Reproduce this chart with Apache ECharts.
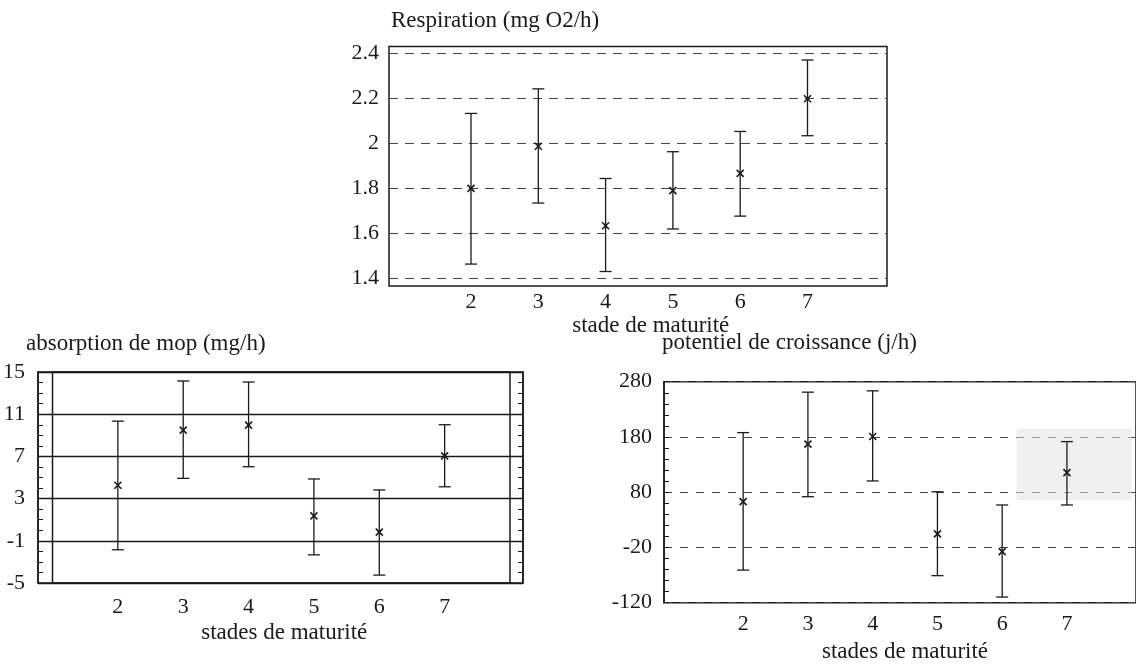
<!DOCTYPE html>
<html><head><meta charset="utf-8">
<script src="https://cdn.jsdelivr.net/npm/echarts@6/dist/echarts.min.js"></script>
<style>html,body{margin:0;padding:0;background:#fff;overflow:hidden}#c{width:1136px;height:664px}</style>
</head><body><div id="c"></div><script>
// ---- data ----
const stages = [2, 3, 4, 5, 6, 7];
const xTickLabels = ['2', '3', '4', '5', '6', '7'];

const respMean = [1.80, 1.987, 1.634, 1.79, 1.867, 2.198];
const respLow  = [1.464, 1.735, 1.431, 1.62, 1.677, 2.034];
const respHigh = [2.133, 2.242, 1.844, 1.963, 2.053, 2.37];

const mopMean = [4.26, 9.49, 9.96, 1.36, -0.18, 7.05];
const mopLow  = [-1.85, 4.92, 6.02, -2.33, -4.25, 4.12];
const mopHigh = [10.34, 14.15, 14.05, 4.86, 3.82, 10.0];

const potMean = [59.7, 165.3, 179.3, 0.5, -32.1, 113];
const potLow  = [-66, 68.8, 97.7, -76.2, -115.5, 53.6];
const potHigh = [186.5, 260.8, 263.2, 77.8, 53.6, 170];

const respAxis = {min: 1.4, max: 2.4, interval: 0.2};
const mopAxis = {min: -5, max: 15, interval: 4};
const potAxis = {min: -120, max: 280, interval: 100};
const stageAxis = {min: 1, max: 8, interval: 1};
const potShade = [[6.22, 62.6], [8.0, 193.8]];

const titles = ['Respiration (mg O2/h)', 'absorption de mop (mg/h)', 'potentiel de croissance (j/h)'];
const xNames = ['stade de maturité', 'stades de maturité', 'stades de maturité'];

// ---- styles ----
const FONT = "'Liberation Serif','DejaVu Serif',serif";
const INK = '#1a1a1a';
const lab = (size) => ({fontFamily: FONT, fontSize: size, color: INK});

function rows(mean, low, high) {
  return stages.map((s, i) => [s, mean[i], low[i], high[i]]);
}
function errRender(params, api) {
  const x = api.value(0);
  const c = api.coord([x, api.value(1)]);
  const lo = api.coord([x, api.value(2)]);
  const hi = api.coord([x, api.value(3)]);
  const cw = 6, m = 3.5;
  const st = {stroke: INK, lineWidth: 1.3, fill: null};
  const st2 = {stroke: INK, lineWidth: 1.6, fill: null};
  return {type: 'group', children: [
    {type: 'line', shape: {x1: hi[0], y1: hi[1], x2: lo[0], y2: lo[1]}, style: st},
    {type: 'line', shape: {x1: hi[0] - cw, y1: hi[1], x2: hi[0] + cw, y2: hi[1]}, style: st},
    {type: 'line', shape: {x1: lo[0] - cw, y1: lo[1], x2: lo[0] + cw, y2: lo[1]}, style: st},
    {type: 'line', shape: {x1: c[0] - m, y1: c[1] - m, x2: c[0] + m, y2: c[1] + m}, style: st2},
    {type: 'line', shape: {x1: c[0] - m, y1: c[1] + m, x2: c[0] + m, y2: c[1] - m}, style: st2}
  ]};
}
const frameStyle = {show: true, borderColor: INK, borderWidth: 1.5, backgroundColor: 'transparent'};
const hiddenX = (g) => ({gridIndex: g, type: 'value', show: false, min: 0, max: 1});
const hiddenY = (g, a) => ({gridIndex: g, type: 'value', show: false, min: a.min, max: a.max});
const stageX = (g, margin, gap, padLeft, name) => ({
  gridIndex: g, type: 'value', min: stageAxis.min, max: stageAxis.max, interval: stageAxis.interval,
  axisLine: {show: false}, axisTick: {show: false}, splitLine: {show: false},
  axisLabel: Object.assign(lab(22), {margin: margin,
    formatter: v => { const i = stages.indexOf(Math.round(v)); return (i >= 0 && Math.abs(v - stages[i]) < 1e-6) ? xTickLabels[i] : ''; }}),
  name: name, nameLocation: 'middle', nameGap: gap,
  nameTextStyle: Object.assign(lab(23), {padding: [0, 0, 0, padLeft]})
});

const option = {
  animation: false,
  backgroundColor: '#fff',
  title: [
    {text: titles[0], left: 391, top: 9, padding: 0, textStyle: Object.assign(lab(23), {fontWeight: 'normal'})},
    {text: titles[1], left: 26, top: 332, padding: 0, textStyle: Object.assign(lab(23), {fontWeight: 'normal'})},
    {text: titles[2], left: 662, top: 331, padding: 0, textStyle: Object.assign(lab(23), {fontWeight: 'normal'})}
  ],
  grid: [
    Object.assign({left: 389, top: 46.5, width: 498, height: 239.5}, frameStyle),   // 0 top frame
    {left: 389, top: 53.3, width: 498, height: 225.2},                                // 1 top gridlines
    {left: 403.7, top: 53.3, width: 471.1, height: 225.2},                            // 2 top data
    Object.assign({left: 38, top: 372, width: 485, height: 211}, frameStyle),        // 3 BL frame
    Object.assign({left: 52.5, top: 372, width: 457.5, height: 211}, frameStyle),    // 4 BL data
    Object.assign({left: 664, top: 381.7, width: 482, height: 221}, frameStyle),     // 5 BR frame
    {left: 678.4, top: 381.7, width: 453.3, height: 221}                              // 6 BR data
  ],
  xAxis: [
    hiddenX(0), hiddenX(1),
    stageX(2, 13, 29.5, 23, xNames[0]),
    hiddenX(3),
    stageX(4, 13.6, 38, 6, xNames[1]),
    hiddenX(5),
    stageX(6, 13.4, 40.5, 0, xNames[2])
  ],
  yAxis: [
    hiddenY(0, {min: 0, max: 1}),
    {gridIndex: 1, type: 'value', min: respAxis.min, max: respAxis.max, interval: respAxis.interval,
     axisLine: {show: false}, axisTick: {show: false},
     splitLine: {show: true, lineStyle: {color: '#444', width: 1, type: [9, 7]}},
     axisLabel: Object.assign(lab(22), {margin: 10})},
    hiddenY(2, respAxis),
    {gridIndex: 3, type: 'value', min: mopAxis.min, max: mopAxis.max, interval: mopAxis.interval,
     axisLine: {show: true, lineStyle: {color: INK, width: 1.5}},
     axisTick: {show: true, inside: true, length: 5, lineStyle: {color: INK}},
     minorTick: {show: true, splitNumber: 4, length: 5, lineStyle: {color: INK}},
     splitLine: {show: true, lineStyle: {color: INK, width: 1.4, type: 'solid'}},
     axisLabel: Object.assign(lab(22), {margin: 13})},
    {gridIndex: 3, type: 'value', position: 'right', min: mopAxis.min, max: mopAxis.max, interval: mopAxis.interval,
     axisLine: {show: true, lineStyle: {color: INK, width: 1.5}},
     axisTick: {show: true, inside: true, length: 5, lineStyle: {color: INK}},
     minorTick: {show: true, splitNumber: 4, length: 5, lineStyle: {color: INK}},
     splitLine: {show: false}, axisLabel: {show: false}},
    hiddenY(4, mopAxis),
    {gridIndex: 5, type: 'value', min: potAxis.min, max: potAxis.max, interval: potAxis.interval,
     axisLine: {show: true, lineStyle: {color: INK, width: 1.5}},
     axisTick: {show: true, inside: true, length: 5, lineStyle: {color: INK}},
     minorTick: {show: true, splitNumber: 5, length: 5, lineStyle: {color: INK}},
     splitLine: {show: true, lineStyle: {color: '#444', width: 1, type: [8, 8]}},
     axisLabel: Object.assign(lab(22), {margin: 12})},
    hiddenY(6, potAxis)
  ],
  series: [
    {type: 'custom', xAxisIndex: 2, yAxisIndex: 2, renderItem: errRender,
     encode: {x: 0, y: [1, 2, 3]}, data: rows(respMean, respLow, respHigh), z: 5},
    {type: 'custom', xAxisIndex: 4, yAxisIndex: 5, renderItem: errRender,
     encode: {x: 0, y: [1, 2, 3]}, data: rows(mopMean, mopLow, mopHigh), z: 5},
    {type: 'custom', xAxisIndex: 6, yAxisIndex: 7, renderItem: errRender,
     encode: {x: 0, y: [1, 2, 3]}, data: rows(potMean, potLow, potHigh), z: 5,
     markArea: {silent: true, itemStyle: {color: 'rgba(228,228,228,0.55)'},
       data: [[{coord: potShade[0]}, {coord: potShade[1]}]]}}
  ]
};
const chart = echarts.init(document.getElementById('c'), null, {renderer: 'canvas'});
chart.setOption(option);
</script></body></html>
